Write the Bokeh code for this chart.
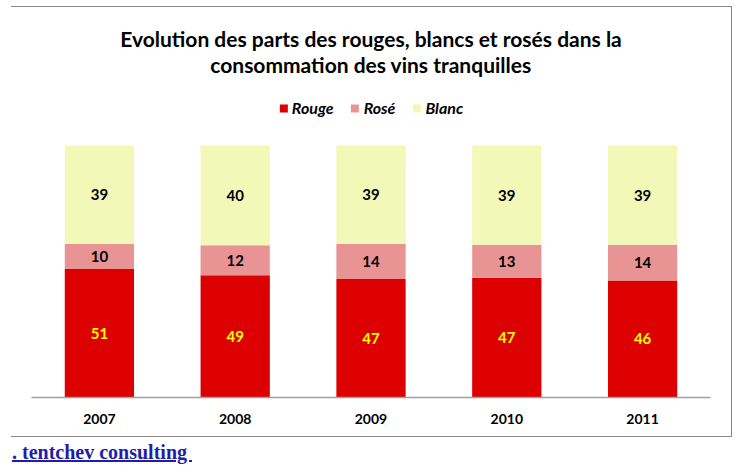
from bokeh.plotting import figure
from bokeh.models import ColumnDataSource, Range1d, Legend, LegendItem, Title, Div, Spacer
from bokeh.layouts import column, row
from bokeh.embed import file_html
from bokeh.resources import INLINE
from bokeh.core.properties import value

years = ["2007", "2008", "2009", "2010", "2011"]
rouge = [51, 49, 47, 47, 46]
rose = [10, 12, 14, 13, 14]
blanc = [39, 40, 39, 39, 39]
series_names = ["Rouge", "Rosé", "Blanc"]
colors = ["#DD0000", "#E99494", "#F2F9B8"]
label_colors = ["#FFFF00", "#000000", "#000000"]
title_lines = ["Evolution des parts des rouges, blancs et rosés dans la",
               "consommation des vins tranquilles"]
link_text = ". tentchev consulting "

FONT = "Lato"

series = [rouge, rose, blanc]
totals = [sum(v) for v in zip(*series)]

p = figure(x_range=years, y_range=Range1d(0, 125), width=721, height=431,
           output_backend="svg", toolbar_location=None, y_axis_location=None,
           min_border_left=20, min_border_right=22, min_border_bottom=41, min_border_top=75)
p.styles = {"border-top": "1px solid #8a8a8a", "border-right": "1px solid #8a8a8a",
            "border-bottom": "1px solid #8a8a8a"}
p.outline_line_color = None
p.xgrid.visible = False
p.ygrid.visible = False
p.background_fill_color = "white"
p.border_fill_color = "white"

items = []
bottoms = [0.0] * len(years)
for name, vals, col, lcol in zip(series_names, series, colors, label_colors):
    shares = [v / t * 100 for v, t in zip(vals, totals)]
    tops = [b + s for b, s in zip(bottoms, shares)]
    mids = [(b + t) / 2 for b, t in zip(bottoms, tops)]
    src = ColumnDataSource(dict(x=years, bottom=bottoms, top=tops, mid=mids,
                                label=[str(v) for v in vals]))
    r = p.vbar(x="x", bottom="bottom", top="top", width=0.51, source=src,
               fill_color=col, line_color=None)
    p.text(x="x", y="mid", text="label", source=src, text_align="center",
           text_baseline="middle", text_color=lcol, text_font=value(FONT),
           text_font_style="bold", text_font_size="15px")
    items.append(LegendItem(label=name, renderers=[r]))
    bottoms = tops

legend = Legend(items=items, orientation="horizontal", location="top_center",
                label_text_font=FONT, label_text_font_style="bold italic",
                label_text_font_size="16px", label_text_color="#000000",
                glyph_width=10, glyph_height=10,
                label_standoff=4, spacing=16, padding=0, margin=16,
                border_line_color=None, background_fill_alpha=0)
p.add_layout(legend)

p.add_layout(Title(text=title_lines[1], align="center", text_font=FONT,
                   text_font_style="bold", text_font_size="21px", text_color="#000000",
                   standoff=12), "above")
p.add_layout(Title(text=title_lines[0], align="center", text_font=FONT,
                   text_font_style="bold", text_font_size="21px", text_color="#000000",
                   standoff=-15), "above")

ax = p.xaxis[0]
ax.axis_line_color = "#a0a0a0"
ax.axis_line_width = 1.5
ax.major_tick_line_color = None
ax.minor_tick_line_color = None
ax.major_label_text_font = FONT
ax.major_label_text_font_style = "bold"
ax.major_label_text_font_size = "14px"
ax.major_label_text_color = "#000000"
ax.major_label_standoff = 10

link = Div(text='<a href="#" style="position:relative;left:-4px;color:#1E1EAA;'
                'font-family:\'Liberation Serif\';font-weight:bold;font-size:20px;'
                'line-height:20px;text-decoration:underline;">'
                + link_text.replace(" ", "&nbsp;") + '</a>',
           width=300, height=24)

layout = column(Spacer(height=6),
                row(Spacer(width=11), column(p, link, spacing=0), spacing=0),
                spacing=0)
open("out.html", "w").write(file_html(layout, INLINE))
